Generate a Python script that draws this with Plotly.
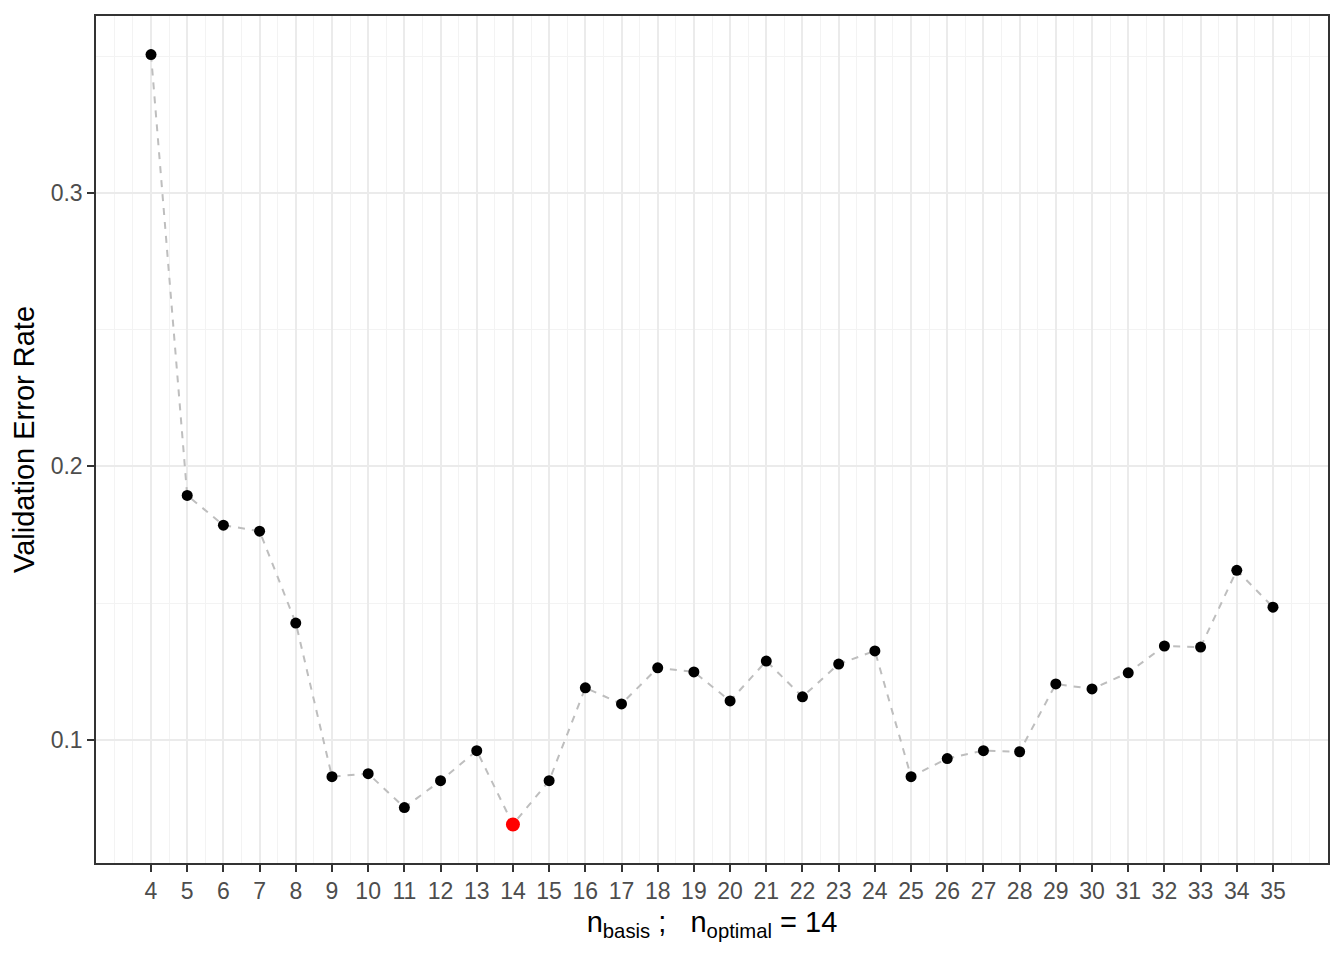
import numpy as np
import plotly.graph_objects as go

# number of basis functions and the validation error for each
n_basis = list(range(4, 36))
error_rate = [0.3507, 0.1894, 0.1785, 0.1763, 0.1427, 0.0865, 0.0876, 0.0752,
              0.0850, 0.0960, 0.0690, 0.0850, 0.1190, 0.1131, 0.1263, 0.1248,
              0.1142, 0.1288, 0.1157, 0.1277, 0.1325, 0.0865, 0.0931, 0.0960,
              0.0956, 0.1204, 0.1186, 0.1245, 0.1343, 0.1339, 0.1620, 0.1485]
n_optimal = 14
y_ticks = [0.1, 0.2, 0.3]

best_err = error_rate[n_basis.index(n_optimal)]

fig = go.Figure()
fig.add_trace(go.Scatter(
    x=n_basis, y=error_rate, mode="lines",
    line=dict(color="#BEBEBE", width=2, dash="7px,7px"),
    hoverinfo="skip", showlegend=False,
))
fig.add_trace(go.Scatter(
    x=n_basis, y=error_rate, mode="markers",
    marker=dict(color="black", size=11),
    showlegend=False,
))
fig.add_trace(go.Scatter(
    x=[n_optimal], y=[best_err], mode="markers",
    marker=dict(color="red", size=14),
    showlegend=False,
))

font = "Liberation Sans, Arial, sans-serif"

# the page has an 8px body margin, so the margins are shifted to compensate
fig.update_layout(
    width=1344, height=960,
    margin=dict(l=88, r=24, t=6, b=105),
    plot_bgcolor="white", paper_bgcolor="white",
    font=dict(family=font, size=23, color="#4D4D4D"),
)

fig.update_xaxes(
    range=[2.48, 36.52],
    tickmode="array", tickvals=n_basis, ticktext=[str(v) for v in n_basis],
    ticks="outside", ticklen=7, tickwidth=2, tickcolor="#333333",
    showgrid=True, gridcolor="#EBEBEB", gridwidth=2,
    minor=dict(tickmode="array", tickvals=list(np.arange(3, 36.01, 0.5)),
               showgrid=True, gridcolor="#F3F3F3", gridwidth=1, ticks=""),
    showline=True, linecolor="#333333", linewidth=1.5, mirror=True,
    zeroline=False,
    tickfont=dict(size=23, color="#4D4D4D"),
    title=dict(text="n<sub>basis</sub> ;   n<sub>optimal</sub> = 14",
               font=dict(size=29, color="black"), standoff=8),
)
fig.update_yaxes(
    range=[0.0549, 0.3648],
    tickmode="array", tickvals=y_ticks, ticktext=[str(v) for v in y_ticks],
    ticks="outside", ticklen=7, tickwidth=2, tickcolor="#333333",
    showgrid=True, gridcolor="#EBEBEB", gridwidth=2,
    minor=dict(tickmode="array", tickvals=[0.15, 0.25, 0.35],
               showgrid=True, gridcolor="#F3F3F3", gridwidth=1, ticks=""),
    showline=True, linecolor="#333333", linewidth=1.5, mirror=True,
    zeroline=False,
    tickfont=dict(size=23, color="#4D4D4D"),
    title=dict(text="Validation Error Rate",
               font=dict(size=29, color="black"), standoff=10),
)

fig.write_html("out.html")
